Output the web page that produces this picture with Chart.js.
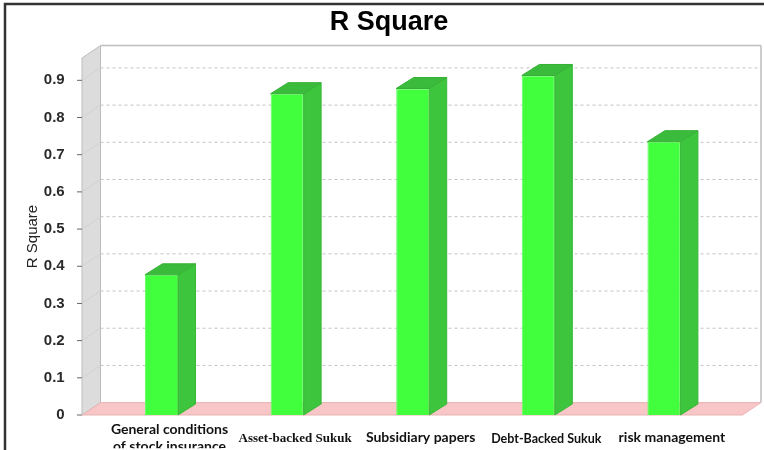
<!DOCTYPE html>
<html>
<head>
<meta charset="utf-8">
<script src="https://cdn.jsdelivr.net/npm/chart.js@4.4.1/dist/chart.umd.min.js"></script>
<style>
  body { margin: 0; background: #fff; }
  canvas { display: block; }
</style>
</head>
<body>
<canvas id="myChart" width="764" height="450"></canvas>
<script>
var categories = [
  ["General conditions", "of stock insurance"],
  "Asset-backed Sukuk",
  "Subsidiary papers",
  "Debt-Backed Sukuk",
  "risk management",
];
var rSquare = [0.377, 0.864, 0.878, 0.913, 0.735];
var yTicks = [0, 0.1, 0.2, 0.3, 0.4, 0.5, 0.6, 0.7, 0.8, 0.9];
var yMax = 0.96;

// depth of the box and of each bar (pixels)
var DX = 18.5, DY = 12.4;
var BDX = 17.5, BDY = 11;

var calibriLike = { family: "Lato, 'Open Sans', sans-serif", size: 14, weight: "bold", lineHeight: 1.25 };
var labelFonts = [
  calibriLike,
  { family: "'Liberation Serif', 'Times New Roman', serif", size: 13, weight: "bold", lineHeight: 1.25 },
  calibriLike,
  { family: "Lato, 'Open Sans', sans-serif", size: 12.5, weight: "bold", lineHeight: 1.25 },
  calibriLike,
];

function poly(ctx, pts, fill, stroke) {
  ctx.beginPath();
  ctx.moveTo(pts[0][0], pts[0][1]);
  for (var i = 1; i < pts.length; i++) ctx.lineTo(pts[i][0], pts[i][1]);
  ctx.closePath();
  if (fill) { ctx.fillStyle = fill; ctx.fill(); }
  if (stroke) { ctx.strokeStyle = stroke; ctx.stroke(); }
}

function line(ctx, x1, y1, x2, y2) {
  ctx.beginPath();
  ctx.moveTo(x1, y1);
  ctx.lineTo(x2, y2);
  ctx.stroke();
}

var box3d = {
  id: "box3d",
  beforeDatasetsDraw(chart) {
    var ctx = chart.ctx, a = chart.chartArea, y = chart.scales.y;
    var fx = a.left - 16.7, bx = fx + DX;
    var rx = a.right + 34.3;
    var top = y.getPixelForValue(yMax), bot = y.getPixelForValue(0);
    ctx.save();

    // outer frame
    ctx.strokeStyle = "#333";
    ctx.lineWidth = 2.5;
    ctx.strokeRect(5, 4, 820, 520);

    // back wall border
    ctx.lineWidth = 1.5;
    ctx.strokeStyle = "#bdbdbd";
    line(ctx, bx, top - DY, rx, top - DY);
    line(ctx, rx, top - DY, rx, bot - DY);

    // dashed grid on the back wall
    ctx.lineWidth = 1;
    ctx.setLineDash([3, 3]);
    ctx.strokeStyle = "#c4c4c4";
    yTicks.forEach(function (v) {
      if (v === 0) return;
      var py = y.getPixelForValue(v) - DY;
      line(ctx, bx, py, rx, py);
    });
    ctx.setLineDash([]);

    // left wall
    ctx.lineWidth = 1;
    poly(ctx, [[fx, top], [bx, top - DY], [bx, bot - DY], [fx, bot]], "#dcdcdc", "#bcbcbc");
    ctx.strokeStyle = "#d2d2d2";
    yTicks.forEach(function (v) {
      if (v === 0) return;
      var py = y.getPixelForValue(v);
      line(ctx, fx, py, bx, py - DY);
    });

    // floor
    poly(ctx, [[fx, bot], [bx, bot - DY], [rx, bot - DY], [rx - DX, bot]], "#f8c6c6", "#e9b4b4");

    // tick marks
    ctx.strokeStyle = "#666";
    yTicks.forEach(function (v) {
      var py = y.getPixelForValue(v);
      line(ctx, fx - 5, py, fx, py);
    });
    ctx.restore();
  },
  afterDatasetsDraw(chart) {
    var ctx = chart.ctx;
    ctx.save();
    ctx.lineWidth = 1;
    chart.getDatasetMeta(0).data.forEach(function (bar) {
      var p = bar.getProps(["x", "y", "base", "width"], true);
      var l = p.x - p.width / 2, r = p.x + p.width / 2;
      poly(ctx, [[r, p.y], [r + BDX, p.y - BDY], [r + BDX, p.base - BDY], [r, p.base]], "#3dc53d", "#38b838");
      poly(ctx, [[l, p.y], [l + BDX, p.y - BDY], [r + BDX, p.y - BDY], [r, p.y]], "#3bbb3b", "#36b036");
    });
    ctx.restore();
  },
};

var ctx = document.getElementById("myChart");
var myChart = new Chart(ctx, {
  type: "bar",
  data: {
    labels: categories,
    datasets: [
      {
        label: "R Square",
        data: rSquare,
        backgroundColor: "#42ff3e",
        borderColor: "#6cff68",
        borderWidth: 1,
        categoryPercentage: 1,
        barPercentage: 0.263,
      },
    ],
  },
  options: {
    responsive: false,
    animation: false,
    layout: { padding: { left: 14, right: 0, top: 0, bottom: 0 } },
    plugins: {
      legend: { display: false },
      tooltip: { enabled: false },
      title: {
        display: true,
        text: "R Square",
        color: "#000",
        font: { family: "'Liberation Sans', Arial, sans-serif", size: 27, weight: "bold", lineHeight: 1.2 },
        padding: { top: 6.3, bottom: 19.3 },
      },
    },
    scales: {
      x: {
        grid: { display: false },
        border: { display: false },
        ticks: {
          color: "#111",
          padding: 6,
          labelOffset: 8,
          maxRotation: 0,
          autoSkip: false,
          crossAlign: "center",
          font: function (c) { return labelFonts[c.index] || calibriLike; },
        },
        afterFit: function (s) { s.height = 33.3; },
      },
      y: {
        min: 0,
        max: yMax,
        grid: { display: false },
        border: { display: false },
        afterBuildTicks: function (s) {
          s.ticks = yTicks.map(function (v) { return { value: v }; });
        },
        ticks: {
          color: "#2a2a2a",
          padding: 26,
          font: { family: "'Liberation Sans', Arial, sans-serif", size: 15, weight: "bold" },
          callback: function (v) { return v === 0 ? "0" : v.toFixed(1); },
        },
        title: {
          display: true,
          text: "R Square",
          color: "#222",
          font: { family: "'Liberation Sans', Arial, sans-serif", size: 15, lineHeight: 1.2 },
          padding: { top: 10, bottom: 0 },
        },
        afterFit: function (s) { s.width = 84.7; },
      },
      spacer: {
        type: "linear",
        position: "right",
        display: true,
        grid: { display: false },
        border: { display: false },
        ticks: { display: false },
        afterFit: function (s) { s.width = 37.3; },
      },
    },
  },
  plugins: [box3d],
});
</script>
</body>
</html>
